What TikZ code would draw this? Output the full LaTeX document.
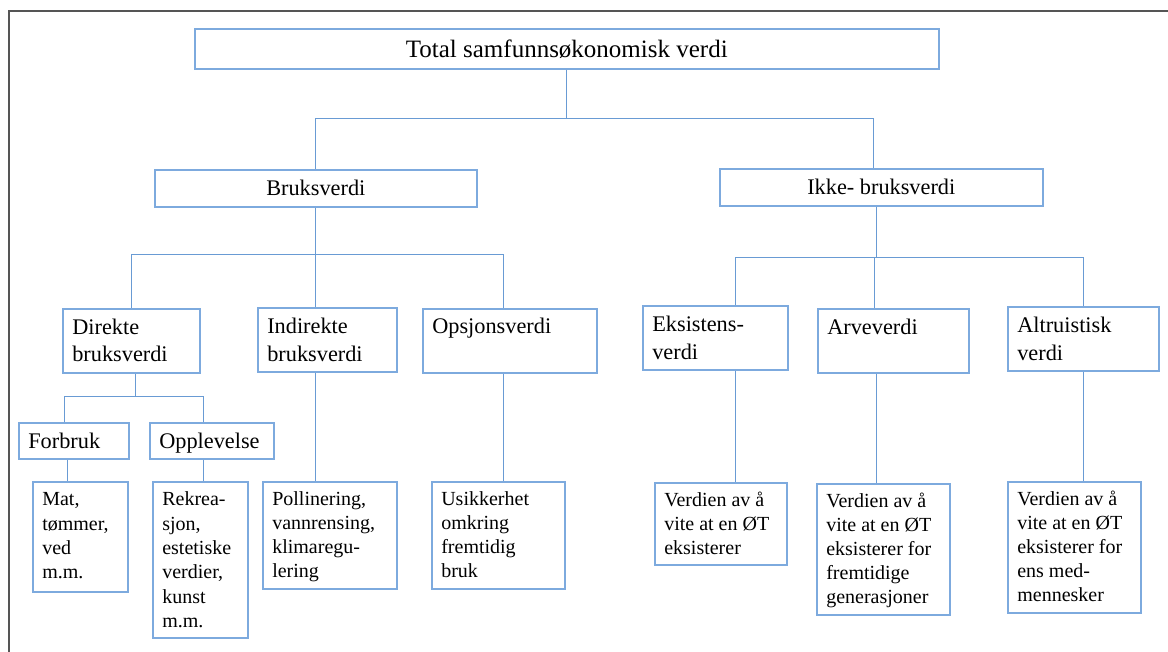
\documentclass[tikz,border=0pt]{standalone}
\usepackage{fontspec}
\setmainfont{Liberation Serif}
\definecolor{boxblue}{RGB}{125,170,222}
\definecolor{connblue}{RGB}{105,155,212}
\definecolor{framegray}{RGB}{85,85,85}
% width, height, first baseline, font size, line spacing, text
\newcommand{\bt}[6]{%
\begin{minipage}[t][#2pt][t]{#1pt}\fontsize{#4pt}{#5pt}\selectfont\raggedright\leftskip=9.5pt\parindent=0pt\rule{0pt}{#3pt}#6\end{minipage}}
\tikzset{
  box/.style={draw=boxblue, line width=1.6pt, inner sep=0pt, anchor=north west},
  conn/.style={draw=connblue, line width=1.1pt},
  frameline/.style={draw=framegray, line width=1.5pt}
}
\begin{document}
\begin{tikzpicture}[x=1pt,y=-1pt]
\useasboundingbox (0,0) rectangle (1168,652);
\draw[frameline] (9,660) -- (9,11) -- (1175,11);

% level 1
\node[box, minimum width=744pt, minimum height=40pt] (title) at (194,28) {\fontsize{25pt}{30pt}\selectfont Total samfunnsøkonomisk verdi};
% level 2
\node[box, minimum width=322pt, minimum height=37pt] (bruk) at (154,169) {\fontsize{22.3pt}{27pt}\selectfont Bruksverdi};
\node[box, minimum width=323pt, minimum height=37pt] (ikke) at (719,168) {\fontsize{22.3pt}{27pt}\selectfont Ikke- bruksverdi};
% level 3
\node[box] (dir) at (62,308) {\bt{137}{64}{25.5}{22.3}{27.5}{Direkte\\bruksverdi}};
\node[box] (ind) at (257,307) {\bt{139}{64}{26}{22.3}{27.5}{Indirekte\\bruksverdi}};
\node[box] (ops) at (422,308) {\bt{174}{64}{24.5}{22.3}{27.5}{Opsjonsverdi}};
\node[box] (eks) at (642,305) {\bt{145}{64}{26}{22.3}{27.5}{Eksistens-\\verdi}};
\node[box] (arv) at (817,308) {\bt{151}{64}{26}{22.3}{27.5}{Arveverdi}};
\node[box] (alt) at (1007,306) {\bt{151}{64}{26}{22.3}{27.5}{Altruistisk\\verdi}};
% sub level
\node[box] (forb) at (18,422) {\bt{110}{36}{26}{22.3}{27.5}{Forbruk}};
\node[box] (opp) at (149,422) {\bt{124}{36}{26}{22.3}{27.5}{Opplevelse}};
% bottom boxes
\node[box] (mat) at (32,481) {\bt{95}{110}{24}{20}{24.3}{Mat,\\tømmer,\\ved\\m.m.}};
\node[box] (rek) at (152,481) {\bt{95}{156}{24}{20}{24.3}{Rekrea-\\sjon,\\estetiske\\verdier,\\kunst\\m.m.}};
\node[box] (pol) at (262,481) {\bt{134}{107}{24}{20}{24}{Pollinering,\\vannrensing,\\klimaregu-\\lering}};
\node[box] (usi) at (431,481) {\bt{133}{107}{24}{20}{24}{Usikkerhet\\omkring\\fremtidig\\bruk}};
\node[box] (v1) at (654,482) {\bt{132}{82}{24}{20}{24}{Verdien av å\\vite at en ØT\\eksisterer}};
\node[box] (v2) at (816,483) {\bt{133}{131}{24}{20}{24}{Verdien av å\\vite at en ØT\\eksisterer for\\fremtidige\\generasjoner}};
\node[box] (v3) at (1007,481) {\bt{133}{131}{24}{20}{24}{Verdien av å\\vite at en ØT\\eksisterer for\\ens med-\\mennesker}};

% connectors: title
\draw[conn] (title.south) -- ++(0,49) coordinate (b1);
\draw[conn] (bruk.north) |- (b1);
\draw[conn] ([xshift=-7.5pt]ikke.north) |- (b1);
% bruksverdi
\draw[conn] (bruk.south) -- ++(0,47) coordinate (b2);
\draw[conn] (dir.north) |- (b2);
\draw[conn] ([xshift=-11.5pt]ind.north) |- (b2);
\draw[conn] ([xshift=-6pt]ops.north) |- (b2);
% direkte
\draw[conn] ([xshift=4.5pt]dir.south) -- ++(0,23) coordinate (b3);
\draw[conn] ([xshift=-9pt]forb.north) |- (b3);
\draw[conn] ([xshift=-8pt]opp.north) |- (b3);
\draw[conn] ([xshift=-6pt]forb.south) coordinate (c1) -- (c1 |- mat.north);
\draw[conn] ([xshift=-8pt]opp.south) coordinate (c2) -- (c2 |- rek.north);
\draw[conn] ([xshift=-11.5pt]ind.south) coordinate (c3) -- (c3 |- pol.north);
\draw[conn] ([xshift=-6pt]ops.south) coordinate (c4) -- (c4 |- usi.north);
% ikke-bruksverdi
\draw[conn] ([xshift=-4.5pt]ikke.south) -- ++(0,51) coordinate (b4);
\draw[conn] ([xshift=20.5pt]eks.north) |- (b4);
\draw[conn] ([xshift=-18.5pt]arv.north) |- (b4);
\draw[conn] (alt.north) |- (b4);
\draw[conn] ([xshift=20.5pt]eks.south) coordinate (c5) -- (c5 |- v1.north);
\draw[conn] ([xshift=-16.5pt]arv.south) coordinate (c6) -- (c6 |- v2.north);
\draw[conn] (alt.south) -- (alt.south |- v3.north);
\end{tikzpicture}
\end{document}
